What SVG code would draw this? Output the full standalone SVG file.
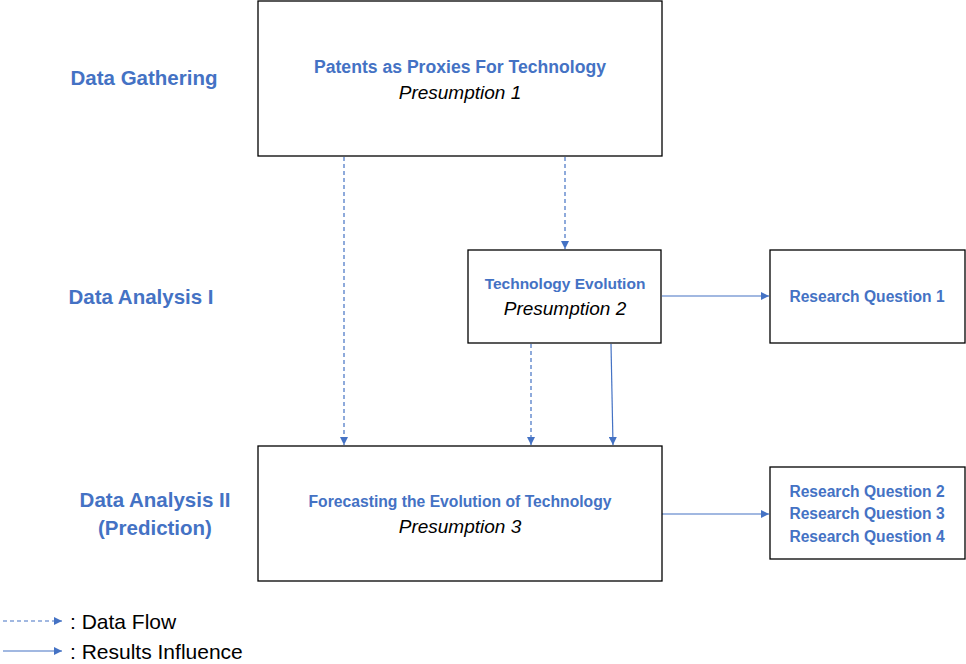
<svg xmlns="http://www.w3.org/2000/svg" width="966" height="664" viewBox="0 0 966 664">
<style>
.box{fill:#fff;stroke:#000;stroke-width:1.3}
.t{font-family:"Liberation Sans",Arial,sans-serif;font-weight:bold;fill:#4472C4;text-anchor:middle}
.lab{font-family:"Liberation Sans",Arial,sans-serif;font-weight:bold;fill:#4472C4;text-anchor:middle;font-size:20.5px}
.p{font-family:"Liberation Sans",Arial,sans-serif;font-style:italic;fill:#000;text-anchor:middle;font-size:19px}
.leg{font-family:"Liberation Sans",Arial,sans-serif;fill:#000;font-size:21px}
.dash{stroke:#4472C4;stroke-width:1.2;fill:none;stroke-dasharray:4 3}
.solid{stroke:#4472C4;stroke-width:1.2;fill:none}
</style>
<defs>
<marker id="ah" viewBox="0 0 10 10" refX="10" refY="5" markerWidth="8" markerHeight="8" markerUnits="userSpaceOnUse" orient="auto">
<path d="M0,0 L10,5 L0,10 z" fill="#4472C4"/>
</marker>
</defs>
<rect width="966" height="664" fill="#fff"/>
<g id="labels">
<text class="lab" x="144" y="85">Data Gathering</text>
<text class="lab" x="141" y="304">Data Analysis I</text>
<text class="lab" x="155" y="507">Data Analysis II</text>
<text class="lab" x="155" y="535">(Prediction)</text>
</g>
<g id="connectors">
<line class="dash" x1="344" y1="157" x2="344" y2="445" marker-end="url(#ah)"/>
<line class="dash" x1="565" y1="157" x2="565" y2="249" marker-end="url(#ah)"/>
<line class="dash" x1="531" y1="344" x2="531" y2="445" marker-end="url(#ah)"/>
<line class="solid" x1="611" y1="344" x2="613" y2="445" marker-end="url(#ah)"/>
<line class="solid" x1="662" y1="296" x2="769" y2="296" marker-end="url(#ah)"/>
<line class="solid" x1="662" y1="514" x2="769" y2="514" marker-end="url(#ah)"/>
</g>
<g id="n1">
<rect class="box" x="258" y="1" width="404" height="155"/>
<text class="t" x="460" y="73" font-size="17.6">Patents as Proxies For Technology</text>
<text class="p" x="460" y="99">Presumption 1</text>
</g>
<g id="n2">
<rect class="box" x="468" y="250" width="193" height="93"/>
<text class="t" x="565" y="289" font-size="15.5">Technology Evolution</text>
<text class="p" x="565" y="315">Presumption 2</text>
</g>
<g id="rq1">
<rect class="box" x="770" y="250" width="195" height="93"/>
<text class="t" x="867" y="302" font-size="15.6">Research Question 1</text>
</g>
<g id="n3">
<rect class="box" x="258" y="446" width="404" height="135"/>
<text class="t" x="460" y="507" font-size="15.7">Forecasting the Evolution of Technology</text>
<text class="p" x="460" y="533">Presumption 3</text>
</g>
<g id="rq234">
<rect class="box" x="770" y="467" width="195" height="92"/>
<text class="t" x="867" y="497" font-size="15.6">Research Question 2</text>
<text class="t" x="867" y="519" font-size="15.6">Research Question 3</text>
<text class="t" x="867" y="542" font-size="15.6">Research Question 4</text>
</g>
<g id="legend">
<line class="dash" x1="3" y1="621" x2="62" y2="621" marker-end="url(#ah)"/>
<line class="solid" x1="3" y1="651" x2="62" y2="651" marker-end="url(#ah)"/>
<text class="leg" x="70" y="629">: Data Flow</text>
<text class="leg" x="70" y="659">: Results Influence</text>
</g>
</svg>
